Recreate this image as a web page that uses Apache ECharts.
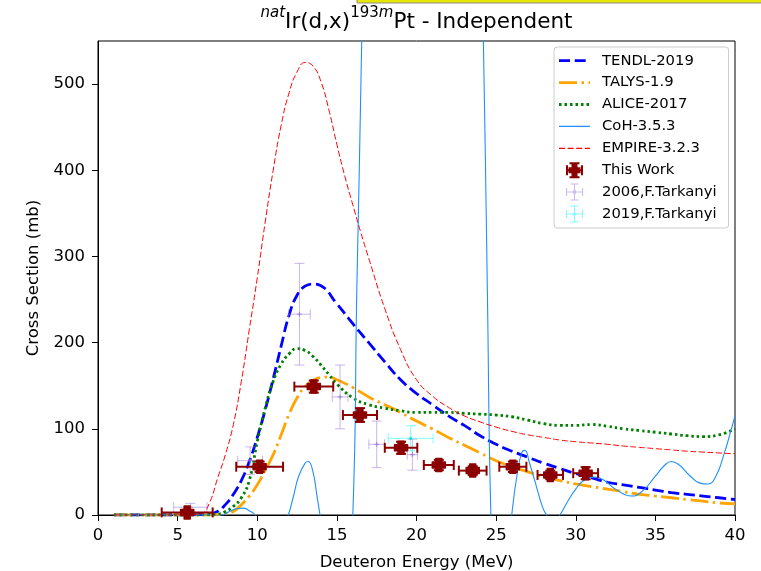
<!DOCTYPE html>
<html><head><meta charset="utf-8">
<script src="https://cdn.jsdelivr.net/npm/echarts@6/dist/echarts.min.js"></script>
<style>html,body{margin:0;padding:0;background:#fff}#c{width:761px;height:571px}</style>
</head><body><div id="c"></div>
<script>
// ---- model curves (Deuteron energy MeV, cross section mb) ----
const tendlE = [1,2,3,4,5,6,7,7.5,8,8.5,9,9.5,10,10.5,11,11.5,12,12.5,13,13.5,14,15,16,17,18,19,20,21,22,23,24,25,26,27,28,29,30,31,32,33,34,35,36,37,38,39,40];
const tendlY = [0,0,0,0,0,0.3,1.5,4,12,24,40,62,90,122,158,196,232,255,265.5,268,266,245,222,200,178,157,141,128,115,104,92,82,74,67,60,54,48,43,38,35,32,29,26,24,22,20,18];

const talysE = [1,2,3,4,5,6,7,7.5,8,8.5,9,9.5,10,10.5,11,11.5,12,12.5,13,13.5,14,14.5,15,16,17,18,19,20,21,22,23,24,25,26,27,28,29,30,31,32,33,34,35,36,37,38,39,40];
const talysY = [0,0,0,0,0,0,0,0.3,1.5,4,12,22,35,52,70,93,117,136,149,156,159.5,160,157,148,137,128,119,109,100,90,81,72,63,56,50,44,40,36,33,30,27,24,22,20,18,16,14,13];

const aliceE = [1,2,3,4,5,6,7,7.5,8,8.5,9,9.5,10,10.5,11,11.5,12,12.5,13,13.5,14,14.5,15,16,17,18,19,20,21,22,23,24,25,26,27,28,29,30,31,32,33,34,35,36,37,38,39,40];
const aliceY = [0,0,0,0,0,0,0.3,1,4,10,20,40,85,124,155,175,187,193,191,184,174,163,152,136,128,124,121,119,119,119,118,117,116,114,110,106,104,104,105,103,100,98,96,94,92,91,93,100];

const cohE = [1,3,5,7,7.5,7.87,8.25,8.75,9.1,9.5,9.86,10.25,11,11.5,11.95,12.25,12.6,13,13.2,13.5,13.75,13.94,14.25,15,15.5,16,16.25,16.56,17,18,20,22,23.5,24.2,24.45,24.67,25,25.5,25.98,26.3,26.6,26.8,27.1,27.5,27.9,28.17,28.6,29,29.5,30,30.5,31.2,31.8,32.5,33.5,34.2,35,35.6,36,36.5,37.2,37.8,38.3,38.8,39.3,39.7,40];
const cohY = [0,0,0,0,-1,0,4,7.5,8,5,0,-15,-30,-20,0,20,45,60,62,50,22,0,-40,-80,-60,0,260,550,1100,2000,2700,2200,1200,550,260,0,-150,-80,0,45,72,75,60,35,10,0,-8,0,16,30,40,44,40,30,22,28,45,58,62,58,45,37,36,45,70,95,115];

const empireE = [1,2,3,4,5,6,6.5,7,7.5,8,8.5,9,9.5,10,10.5,11,11.5,12,12.5,13,13.5,14,14.5,15,15.5,16,16.5,17,18,19,20,21,22,23,24,25,26,27,28,29,30,31,32,33,34,35,36,37,38,39,40];
const empireY = [0,0,0,0,0,0.5,1.5,14,42,70,105,155,215,275,340,400,452,490,514,525,521,503,470,430,393,360,328,298,240,192,157,138,125,115,108,102,97,93,90,87,85,83.5,82,80,78.5,77,75.5,74,73,72,71];

// ---- experimental data ----
const workE    = [5.6, 10.15, 13.55, 16.45, 19.03, 21.4, 23.53, 26.05, 28.4, 30.62];
const workXerr = [1.6, 1.47, 1.22, 1.07, 1.02, 0.94, 0.87, 0.85, 0.8, 0.78];
const workY    = [3, 56, 149, 116, 78, 58, 51.5, 56, 46.5, 48.5];
const workYerr = [3, 6, 7, 8, 7, 6, 5, 6, 5, 7];

const t06E    = [5.8, 9.55, 12.65, 15.2, 17.5, 19.74];
const t06Xerr = [1.05, 0.78, 0.68, 0.49, 0.49, 0.32];
const t06Y    = [9, 63, 233, 137, 82, 70];
const t06Yerr = [4.5, 16, 59, 37, 27, 18];

const t19E    = [19.63];
const t19Xerr = [1.41];
const t19Y    = [89];
const t19Yerr = [14.5];

const xTicks = [0,5,10,15,20,25,30,35,40];
const yTicks = [0,100,200,300,400,500];

// ---- helpers ----
const FONT = 'DejaVu Sans';
const zip = (xs, ys) => xs.map((x, i) => [x, ys[i]]);
const zip4 = (a, b, c, d) => a.map((x, i) => [x, b[i], c[i], d[i]]);

function errRender(o) {
  return function (params, api) {
    const x = api.value(0), y = api.value(1), xe = api.value(2), ye = api.value(3);
    const c = api.coord([x, y]);
    const l = api.coord([x - xe, y]), r = api.coord([x + xe, y]);
    const t = api.coord([x, y + ye]), b = api.coord([x, y - ye]);
    const h = o.cap / 2;
    const st = { stroke: o.color, lineWidth: o.lw, fill: null };
    const ch = [
      { type: 'line', shape: { x1: l[0], y1: c[1], x2: r[0], y2: c[1] }, style: st },
      { type: 'line', shape: { x1: c[0], y1: t[1], x2: c[0], y2: b[1] }, style: st },
      { type: 'line', shape: { x1: l[0], y1: c[1] - h, x2: l[0], y2: c[1] + h }, style: st },
      { type: 'line', shape: { x1: r[0], y1: c[1] - h, x2: r[0], y2: c[1] + h }, style: st },
      { type: 'line', shape: { x1: c[0] - h, y1: t[1], x2: c[0] + h, y2: t[1] }, style: st },
      { type: 'line', shape: { x1: c[0] - h, y1: b[1], x2: c[0] + h, y2: b[1] }, style: st }
    ];
    if (o.marker === 'P') {
      const s = 6.5, a = 3;
      const pts = [[-a,-s],[a,-s],[a,-a],[s,-a],[s,a],[a,a],[a,s],[-a,s],[-a,a],[-s,a],[-s,-a],[-a,-a]]
        .map(p => [c[0] + p[0], c[1] + p[1]]);
      ch.push({ type: 'polygon', shape: { points: pts }, style: { fill: o.color, stroke: o.color, lineWidth: 1.5, lineJoin: 'round' } });
    } else if (o.marker === '+') {
      const m = 2.5;
      const ms = { stroke: o.mcolor, lineWidth: 1, fill: null };
      ch.push({ type: 'line', shape: { x1: c[0] - m, y1: c[1], x2: c[0] + m, y2: c[1] }, style: ms });
      ch.push({ type: 'line', shape: { x1: c[0], y1: c[1] - m, x2: c[0], y2: c[1] + m }, style: ms });
    } else {
      ch.push({ type: 'circle', shape: { cx: c[0], cy: c[1], r: 1.6 }, style: { fill: o.mcolor } });
    }
    return { type: 'group', children: ch };
  };
}

// ---- legend icons (drawn in a 31 x 17 box) ----
const IW = 31, IH = 17;
const R = (x, y, w, h) => `M${x},${y}H${x + w}V${y + h}H${x}Z`;
const anchors = R(0, 0, 0.01, 0.01) + R(IW - 0.01, IH - 0.01, 0.01, 0.01);
function dashIcon(pattern, thick) {
  let p = anchors, x = 0, i = 0;
  const y = IH / 2 - thick / 2;
  if (!pattern) return 'path://' + p + R(0, y, IW, thick);
  while (x < IW) {
    const len = pattern[i % pattern.length];
    if (i % 2 === 0) p += R(x, y, Math.min(len, IW - x), thick);
    x += len; i++;
  }
  return 'path://' + p;
}
const iconWork = 'path://' + anchors + R(7, 7.5, 17, 2) + R(14.5, 0.5, 2, 16) + R(7, 3.5, 2, 10) + R(22, 3.5, 2, 10)
  + R(10.5, 0.5, 10, 2) + R(10.5, 14.5, 10, 2) + R(12.5, 2.5, 6, 12) + R(9.5, 5.5, 12, 6);
const iconThin = 'path://' + anchors + R(7, 8, 17, 1) + R(15, 0, 1, 17) + R(7, 4.5, 1, 8) + R(23, 4.5, 1, 8)
  + R(11.5, 0, 8, 1) + R(11.5, 16, 8, 1) + R(14, 7, 3, 3);

const dashTendl = [11, 4.7], dashTalys = [18, 4.5, 2.5, 4.5], dashAlice = [2.5, 3], dashEmpire = [6, 2.6];

const workColor = '#8b0000';
const t06Color = 'rgba(147,112,219,0.5)';
const t19Color = 'rgba(0,255,255,0.5)';

const lineSeries = (name, xs, ys, color, width, dash, z) => ({
  name, type: 'line', data: zip(xs, ys), smooth: true, symbol: 'none', showSymbol: false,
  clip: true, z,
  lineStyle: { color, width, type: dash, cap: 'butt' },
  itemStyle: { color },
  emphasis: { disabled: true }
});

const chart = echarts.init(document.getElementById('c'), null, { renderer: 'canvas' });
chart.setOption({
  animation: false,
  backgroundColor: '#fff',
  textStyle: { fontFamily: FONT },
  title: {
    text: '{si|nat}{n|Ir(d,x)}{s|193}{si|m}{n|Pt - Independent}',
    left: 416.5, top: 5.6, padding: 0, textAlign: 'center',
    textStyle: {
      fontWeight: 'normal',
      rich: {
        n: { fontSize: 21.5, fontFamily: FONT, fontWeight: 'normal', color: '#000', lineHeight: 34 },
        s: { fontSize: 15, fontFamily: FONT, fontWeight: 'normal', color: '#000', lineHeight: 15, verticalAlign: 'top' },
        si: { fontSize: 15, fontFamily: FONT, fontWeight: 'normal', color: '#000', lineHeight: 15, verticalAlign: 'top', fontStyle: 'italic' }
      }
    }
  },
  grid: { left: 98, right: 26, top: 41, bottom: 56, show: true, borderColor: '#000', borderWidth: 1, backgroundColor: 'transparent', containLabel: false, outerBoundsMode: 'none' },
  legend: {
    orient: 'vertical', left: 554, top: 47,
    padding: [5.2, 12, 5.5, 5],
    itemWidth: IW, itemHeight: IH, itemGap: 4.9,
    symbolKeepAspect: false,
    backgroundColor: 'rgba(255,255,255,0.85)', borderColor: '#cccccc', borderWidth: 1, borderRadius: 3,
    textStyle: { fontFamily: FONT, fontSize: 14.8, color: '#000', lineHeight: 17, padding: [0, 0, 0, 7] },
    selectedMode: false,
    data: [
      { name: 'TENDL-2019', icon: dashIcon(dashTendl, 2.8) },
      { name: 'TALYS-1.9', icon: dashIcon(dashTalys, 2.8) },
      { name: 'ALICE-2017', icon: dashIcon(dashAlice, 2.8) },
      { name: 'CoH-3.5.3', icon: dashIcon(null, 1.3) },
      { name: 'EMPIRE-3.2.3', icon: dashIcon(dashEmpire, 1.2) },
      { name: 'This Work', icon: iconWork },
      { name: '2006,F.Tarkanyi', icon: iconThin },
      { name: '2019,F.Tarkanyi', icon: iconThin }
    ]
  },
  xAxis: {
    type: 'value', min: 0, max: 40, interval: 5,
    name: 'Deuteron Energy (MeV)', nameLocation: 'middle', nameGap: 39,
    nameTextStyle: { fontFamily: FONT, fontSize: 16.5, color: '#000' },
    axisLine: { show: true, onZero: false, lineStyle: { color: '#000', width: 1 } },
    axisTick: { show: true, length: 6, lineStyle: { color: '#000', width: 1 }, customValues: xTicks },
    axisLabel: { color: '#000', fontFamily: FONT, fontSize: 16.5, margin: 12, customValues: xTicks },
    splitLine: { show: false }
  },
  yAxis: {
    type: 'value', min: 0, max: 550, interval: 100,
    name: 'Cross Section (mb)', nameLocation: 'middle', nameGap: 52,
    nameTextStyle: { fontFamily: FONT, fontSize: 16.5, color: '#000' },
    axisLine: { show: true, onZero: false, lineStyle: { color: '#000', width: 1 } },
    axisTick: { show: true, length: 6, lineStyle: { color: '#000', width: 1 }, customValues: yTicks },
    axisLabel: { color: '#000', fontFamily: FONT, fontSize: 16.5, margin: 13, customValues: yTicks },
    splitLine: { show: false }
  },
  graphic: [
    { type: 'rect', shape: { x: 357, y: -3, width: 410, height: 6 }, style: { fill: '#e6e600', stroke: '#8a8a8a', lineWidth: 1 }, z: 100 }
  ],
  series: [
    lineSeries('TENDL-2019', tendlE, tendlY, '#0000ff', 2.8, dashTendl, 2),
    lineSeries('TALYS-1.9', talysE, talysY, '#ffa500', 2.8, dashTalys, 3),
    lineSeries('ALICE-2017', aliceE, aliceY, '#008000', 2.8, dashAlice, 4),
    lineSeries('CoH-3.5.3', cohE, cohY, '#1e90ff', 1.1, 'solid', 5),
    lineSeries('EMPIRE-3.2.3', empireE, empireY, '#ff0000', 1, dashEmpire, 6),
    {
      name: 'This Work', type: 'custom', z: 10,
      data: zip4(workE, workY, workXerr, workYerr),
      encode: { x: 0, y: 1 },
      itemStyle: { color: workColor },
      renderItem: errRender({ color: workColor, lw: 2, cap: 10, marker: 'P' })
    },
    {
      name: '2006,F.Tarkanyi', type: 'custom', z: 9,
      data: zip4(t06E, t06Y, t06Xerr, t06Yerr),
      encode: { x: 0, y: 1 },
      itemStyle: { color: t06Color },
      renderItem: errRender({ color: t06Color, lw: 1, cap: 10, marker: '+', mcolor: 'rgba(147,112,219,0.75)' })
    },
    {
      name: '2019,F.Tarkanyi', type: 'custom', z: 9,
      data: zip4(t19E, t19Y, t19Xerr, t19Yerr),
      encode: { x: 0, y: 1 },
      itemStyle: { color: t19Color },
      renderItem: errRender({ color: t19Color, lw: 1, cap: 10, marker: '.', mcolor: 'rgba(0,220,220,0.8)' })
    }
  ]
});
</script></body></html>
